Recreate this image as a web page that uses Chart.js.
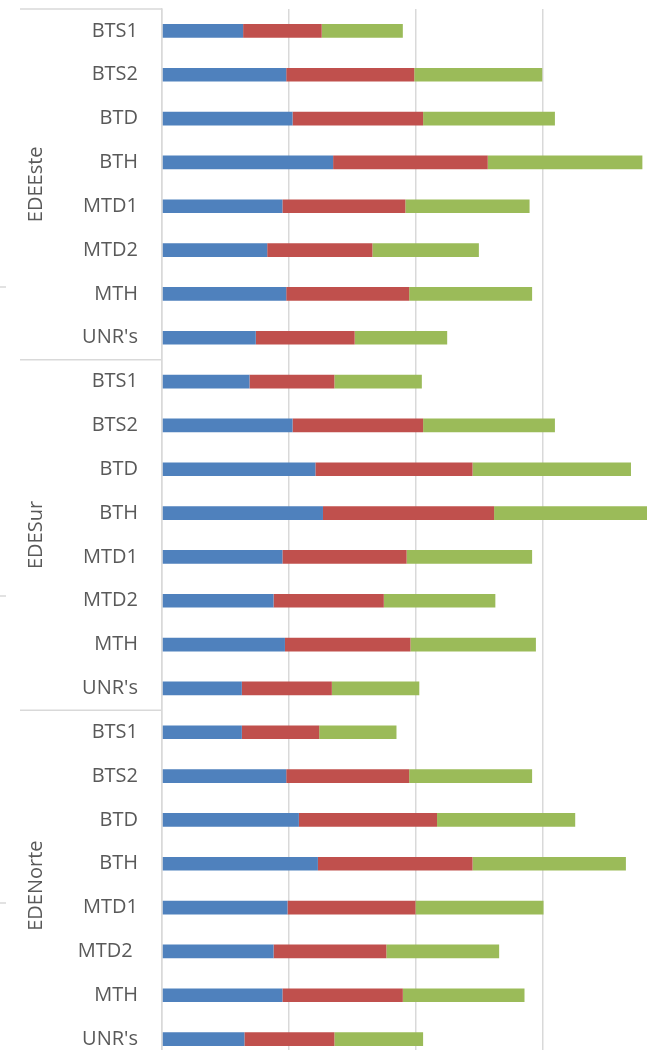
<!DOCTYPE html>
<html>
<head>
<meta charset="utf-8">
<script src="https://cdn.jsdelivr.net/npm/chart.js@4.4.1/dist/chart.umd.min.js"></script>
<style>
  html, body { margin: 0; padding: 0; background: #fff; overflow: hidden; }
  #wrap { position: relative; width: 669px; height: 1061px; }
</style>
</head>
<body>
<div id="wrap"><canvas id="chart" width="669" height="1061"></canvas></div>
<script>
// groups and their categories (EDENorte has "MTD2 " with a trailing space in the source)
const groups = ["EDEEste", "EDESur", "EDENorte"];
const esteCategories = ["BTS1", "BTS2", "BTD", "BTH", "MTD1", "MTD2", "MTH", "UNR's"];
const surCategories = ["BTS1", "BTS2", "BTD", "BTH", "MTD1", "MTD2", "MTH", "UNR's"];
const norteCategories = ["BTS1", "BTS2", "BTD", "BTH", "MTD1", "MTD2 ", "MTH", "UNR's"];

const seriesNames = ["Serie1", "Serie2", "Serie3"];
const seriesColors = ["#4F81BD", "#C0504D", "#9BBB59"];

// series values per group
const esteSerie1 = [6.4, 9.8, 10.3, 13.5, 9.5, 8.3, 9.8, 7.4];
const esteSerie2 = [6.2, 10.1, 10.3, 12.2, 9.7, 8.3, 9.7, 7.8];
const esteSerie3 = [6.4, 10.1, 10.4, 12.2, 9.8, 8.4, 9.7, 7.3];

const surSerie1 = [6.9, 10.3, 12.1, 12.7, 9.5, 8.8, 9.7, 6.3];
const surSerie2 = [6.7, 10.3, 12.4, 13.5, 9.8, 8.7, 9.9, 7.1];
const surSerie3 = [6.9, 10.4, 12.5, 13.5, 9.9, 8.8, 9.9, 6.9];

const norteSerie1 = [6.3, 9.8, 10.8, 12.3, 9.9, 8.8, 9.5, 6.5];
const norteSerie2 = [6.1, 9.7, 10.9, 12.2, 10.1, 8.9, 9.5, 7.1];
const norteSerie3 = [6.1, 9.7, 10.9, 12.1, 10.1, 8.9, 9.6, 7.0];

// value axis
const axisMin = 0;
const axisMax = 40;
const axisStep = 10;

const labels = [...esteCategories, ...surCategories, ...norteCategories];
const groupSizes = [esteCategories.length, surCategories.length, norteCategories.length];
const seriesData = [
  [...esteSerie1, ...surSerie1, ...norteSerie1],
  [...esteSerie2, ...surSerie2, ...norteSerie2],
  [...esteSerie3, ...surSerie3, ...norteSerie3],
];

const lineColor = "#d9d9d9";
const textColor = "#595959";
const fontFamily = "'Open Sans', 'Noto Sans', sans-serif";

// draws the outer category level: group names and separator lines
const groupAxisPlugin = {
  id: "groupAxis",
  afterDraw(chart) {
    const ctx = chart.ctx;
    const y = chart.scales.y;
    const area = chart.chartArea;
    const half = (y.getPixelForValue(1) - y.getPixelForValue(0)) / 2;

    ctx.save();
    ctx.strokeStyle = lineColor;
    ctx.lineWidth = 1.5;

    let start = 0;
    groups.forEach((name, g) => {
      const top = y.getPixelForValue(start) - half;
      const bottom = y.getPixelForValue(start + groupSizes[g] - 1) + half;

      ctx.beginPath();
      ctx.moveTo(20, top);
      ctx.lineTo(area.left, top);
      ctx.stroke();

      ctx.save();
      ctx.translate(36, (top + bottom) / 2);
      ctx.rotate(-Math.PI / 2);
      ctx.fillStyle = textColor;
      ctx.font = "20px " + fontFamily;
      ctx.textAlign = "center";
      ctx.textBaseline = "middle";
      ctx.fillText(name, 0, 0);
      ctx.restore();

      start += groupSizes[g];
    });

    // small stray tick marks on the far left of the source picture
    [287, 596, 903].forEach((py) => {
      ctx.beginPath();
      ctx.moveTo(0, py);
      ctx.lineTo(6, py);
      ctx.stroke();
    });
    ctx.restore();
  },
};

function renderChart() {
  const ctx = document.getElementById("chart").getContext("2d");
  new Chart(ctx, {
    type: "bar",
    data: {
      labels: labels,
      datasets: seriesNames.map((name, i) => ({
        label: name,
        data: seriesData[i],
        backgroundColor: seriesColors[i],
        borderWidth: 0,
        barPercentage: 0.31,
        categoryPercentage: 1,
      })),
    },
    options: {
      indexAxis: "y",
      responsive: false,
      animation: false,
      layout: { padding: { top: 9, left: 0, right: 0, bottom: 0 } },
      plugins: {
        legend: { display: false },
        tooltip: { enabled: false },
      },
      scales: {
        x: {
          stacked: true,
          min: axisMin,
          max: axisMax,
          ticks: { display: false, stepSize: axisStep },
          grid: { color: lineColor, lineWidth: 1.5, drawTicks: false },
          border: { display: false },
          afterFit(scale) {
            scale.height = 0;
            scale.paddingLeft = 0;
            scale.paddingRight = 0;
          },
        },
        y: {
          stacked: true,
          ticks: {
            autoSkip: false,
            padding: 24,
            color: textColor,
            font: { family: fontFamily, size: 20 },
          },
          grid: { display: false, drawTicks: false },
          border: { display: true, color: lineColor, width: 1.5 },
          afterFit(scale) {
            scale.width = 162;
            scale.paddingTop = 0;
            scale.paddingBottom = 0;
          },
        },
      },
    },
    plugins: [groupAxisPlugin],
  });
}

document.addEventListener("DOMContentLoaded", renderChart);
</script>
</body>
</html>
